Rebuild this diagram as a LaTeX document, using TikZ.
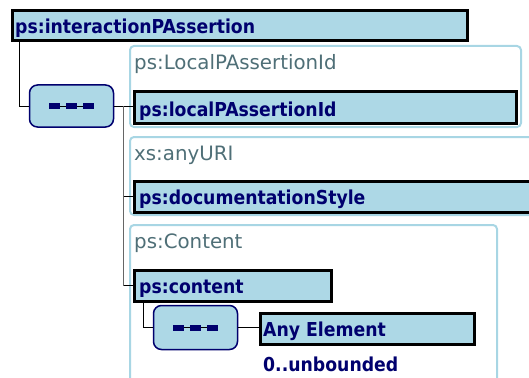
\documentclass[tikz,border=0pt]{standalone}
\usepackage{fontspec}
\setmainfont{DejaVu Sans}
\newfontfamily\condfont{DejaVu Sans Condensed}
\usetikzlibrary{calc}
\definecolor{lb}{HTML}{ADD8E6}
\definecolor{navy}{HTML}{00006E}
\definecolor{lbl}{HTML}{4F6F77}
\definecolor{grp}{HTML}{A8D6E4}
\begin{document}
\begin{tikzpicture}[x=1pt,y=-1pt,
  elem/.style={draw=black, line width=3pt, fill=lb, inner sep=0pt, anchor=north west},
  grpbox/.style={draw=grp, line width=2pt, fill=white, rounded corners=4pt, inner sep=0pt, anchor=north west},
  seqbox/.style={draw=navy, line width=1.5pt, fill=lb, rounded corners=8pt, inner sep=0pt},
  etext/.style={anchor=base west, inner sep=0pt, text=navy, font=\condfont\fontsize{19.2}{22}\selectfont\bfseries},
  ltext/.style={anchor=base west, inner sep=0pt, text=lbl, font=\fontsize{19.8}{22}\selectfont},
  conn/.style={draw=black, line width=1pt},
  seqmark/.style={fill=navy, draw=none, minimum width=11pt, minimum height=6pt, inner sep=0pt}
]
\useasboundingbox (0,0) rectangle (529,377);
% groups
\node[grpbox, minimum width=391pt, minimum height=81pt] (g1) at (129,45) {};
\node[grpbox, minimum width=420pt, minimum height=78pt] (g2) at (129,136) {};
\node[grpbox, minimum width=367pt, minimum height=170pt] (g3) at (129,224) {};
\node[ltext] (l1) at (134,70) {ps:LocalPAssertionId};
\node[ltext] (l2) at (134,160.5) {xs:anyURI};
\node[ltext] (l3) at (134,248) {ps:Content};
% elements
\node[elem, minimum width=455pt, minimum height=30pt] (top) at (10.5,9.5) {};
\node[elem, minimum width=382pt, minimum height=31pt] (e1) at (132.5,90.5) {};
\node[elem, minimum width=400pt, minimum height=31pt] (e2) at (132.5,179.5) {};
\node[elem, minimum width=197pt, minimum height=31pt] (e3) at (132.5,268.5) {};
\node[elem, minimum width=214pt, minimum height=31pt] (ae) at (258.5,312) {};
\node[etext] (ttop) at (15,34) {ps:interactionPAssertion};
\node[etext] (t1) at (139,116) {ps:localPAssertionId};
\node[etext] (t2) at (139,204.5) {ps:documentationStyle};
\node[etext] (t3) at (139,293) {ps:content};
\node[etext] (tae) at (263,336) {Any Element};
\node[etext] (occ) at (263,371) {0..unbounded};
% sequence compositors
\node[seqbox, minimum width=84pt, minimum height=42pt] (s1) at (71.5,106) {};
\node[seqbox, minimum width=84pt, minimum height=44pt] (s2) at (195.5,327.5) {};
\foreach \s in {s1,s2}{
  \draw[line width=0.8pt] ($(\s.center)+(-22,0)$) -- ($(\s.center)+(22,0)$);
  \node[seqmark] at ($(\s.center)+(-17,0)$) {};
  \node[seqmark] at ($(\s.center)+(0,0)$) {};
  \node[seqmark] at ($(\s.center)+(17,0)$) {};
}
% connectors
\coordinate (c0) at ($(top.south west)+(8.5,0)$);
\draw[conn] (c0) |- (s1.west);
\draw[conn] (s1.east) -- (s1.east -| e1.west);
\coordinate (v) at (123.5,106);
\draw[conn, draw=black!60] (v) |- (e3.west);
\draw[conn] (v |- e2.west) -- (e2.west);
\draw[conn] (v |- e3.west) -- (e3.west);
\coordinate (c3) at ($(e3.south west)+(10.5,0)$);
\draw[conn] (c3) |- (s2.west);
\draw[conn] (s2.east) -- (s2.east -| ae.west);
\end{tikzpicture}
\end{document}
